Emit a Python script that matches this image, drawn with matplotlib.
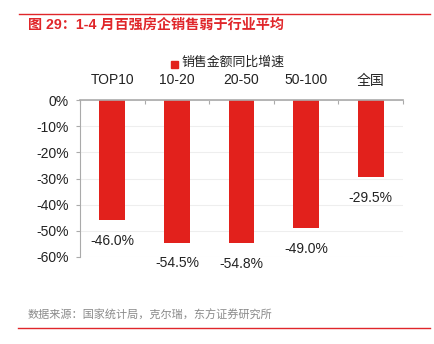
import matplotlib
matplotlib.use("Agg")
import matplotlib.pyplot as plt
from matplotlib.lines import Line2D
from matplotlib.patches import Rectangle

plt.rcParams['font.family'] = ['Liberation Sans', 'Noto Sans CJK SC', 'DejaVu Sans']

categories = ["TOP10", "10-20", "20-50", "50-100", "全国"]
values = [-46.0, -54.5, -54.8, -49.0, -29.5]
yticks = [0, -10, -20, -30, -40, -50, -60]
title = "图 29：1-4 月百强房企销售弱于行业平均"
legend_label = "销售金额同比增速"
source = "数据来源：国家统计局，克尔瑞，东方证券研究所"

RED = "#E2211C"
W, H = 434, 344
fig = plt.figure(figsize=(W/100, H/100), dpi=100)

# axes placement
x0, x1 = 80, 403
y0, y1 = 100, 257
ax = fig.add_axes([x0/W, 1 - y1/H, (x1-x0)/W, (y1-y0)/H])

xs = list(range(len(categories)))
ax.bar(xs, values, width=0.4, color=RED, zorder=3)
ax.set_xlim(-0.5, len(categories) - 0.5)
ax.set_ylim(-60, 0)

ax.set_yticks(yticks)
ax.set_yticklabels([f"{v}%" for v in yticks], fontsize=10, color="#222222")
ax.yaxis.grid(True, color="#EEEEEE", linewidth=0.8, zorder=0)
ax.tick_params(axis='y', length=3, color="#AAAAAA", width=0.8, pad=5)

ax.xaxis.tick_top()
ax.set_xticks(xs)
ax.set_xticklabels(categories, fontsize=10, color="#222222")
ax.tick_params(axis='x', which='major', length=0, pad=9)
ax.set_xticks([i - 0.5 for i in range(len(categories) + 1)], minor=True)
ax.tick_params(axis='x', which='minor', direction='in', length=3, color="#AAAAAA", width=0.8, top=True, bottom=False)

for s in ['right', 'bottom']:
    ax.spines[s].set_visible(False)
ax.spines['left'].set_color("#AAAAAA")
ax.spines['left'].set_linewidth(0.8)
ax.spines['top'].set_color("#AAAAAA")
ax.spines['top'].set_linewidth(1.2)
ax.spines['top'].set_zorder(4)

for x, v in zip(xs, values):
    ax.annotate(f"{v:.1f}%", (x, v), xytext=(0, -15), textcoords="offset points",
                ha="center", va="center", fontsize=10, color="#222222")

# legend
fig.patches.append(Rectangle((171/W, 1 - 68/H), 7/W, 7/H, transform=fig.transFigure,
                             color=RED))
fig.text(181/W, 1 - 63/H, legend_label, fontsize=9.3, ha="left", va="center", color="#222222")

# title and lines
fig.add_artist(Line2D([19/W, 430/W], [1 - 13.5/H, 1 - 13.5/H], color="#E0262A", linewidth=1.0))
fig.text(28/W, 1 - 25/H, title, fontsize=10.2, fontweight="bold", color="#E0262A",
         ha="left", va="center")
fig.text(28/W, 1 - 315/H, source, fontsize=8, color="#8A8A8A", ha="left", va="center")
fig.add_artist(Line2D([18/W, 430/W], [1 - 327.5/H, 1 - 327.5/H], color="#E0262A", linewidth=1.0))

fig.savefig("out.png", dpi=100)
